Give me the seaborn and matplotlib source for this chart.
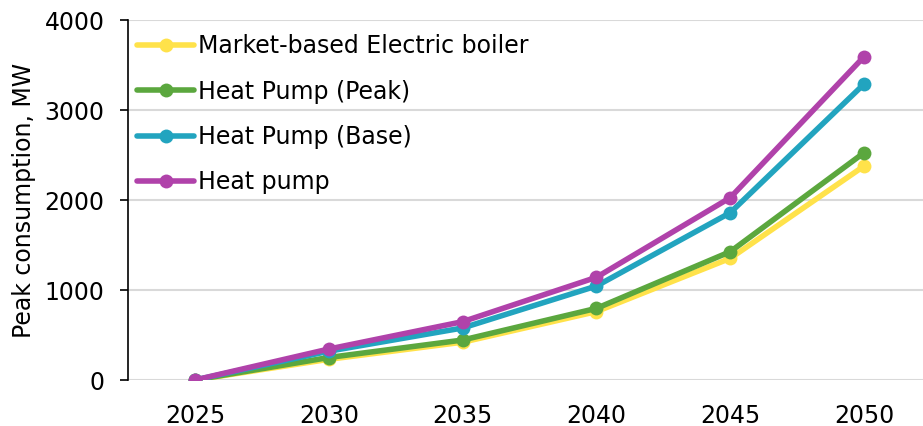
import matplotlib
matplotlib.use("Agg")
import matplotlib.pyplot as plt
import seaborn as sns
import pandas as pd

years = [2025, 2030, 2035, 2040, 2045, 2050]
electric_boiler = [0, 230, 420, 760, 1352, 2378]
hp_peak = [0, 250, 444, 796, 1426, 2526]
hp_base = [0, 320, 578, 1044, 1859, 3289]
heat_pump = [0, 344, 648, 1141, 2026, 3593]

series_names = ["Market-based Electric boiler", "Heat Pump (Peak)",
                "Heat Pump (Base)", "Heat pump"]
colors = ["#FFE24A", "#5BA73E", "#22A4BF", "#B042AA"]
y_ticks = [0, 1000, 2000, 3000, 4000]

rows = []
for name, vals in zip(series_names, [electric_boiler, hp_peak, hp_base, heat_pump]):
    for yr, v in zip(years, vals):
        rows.append({"year": yr, "value": v, "series": name})
df = pd.DataFrame(rows)

sns.set_theme(style="white", rc={"text.color": "black", "axes.labelcolor": "black",
                                 "xtick.color": "black", "ytick.color": "black"})
plt.rcParams["font.family"] = ["DejaVu Sans"]

fig = plt.figure(figsize=(9.23, 4.26), dpi=100)
ax = fig.add_axes([128 / 923, 46 / 426, 1 - 128 / 923, 360 / 426])

sns.lineplot(data=df, x="year", y="value", hue="series", hue_order=series_names,
             palette=colors, marker="o", markersize=10, markeredgewidth=0,
             linewidth=4, ax=ax, legend=True)

ax.set_xlim(2022.5, 2052.2)
ax.set_ylim(0, 4000)
ax.set_yticks(y_ticks)
ax.set_yticklabels([str(t) for t in y_ticks])
ax.set_xticks(years)
ax.set_xticklabels([str(y) for y in years])
ax.yaxis.grid(True, color="#D9D9D9", linewidth=1.5)
ax.set_axisbelow(True)
for s in ["top", "right", "bottom"]:
    ax.spines[s].set_visible(False)
ax.spines["left"].set_color("black")
ax.spines["left"].set_linewidth(1.2)
ax.tick_params(axis="y", which="both", left=True, length=5.8, width=1.2, color="black",
               labelsize=17, pad=11)
ax.tick_params(axis="x", bottom=False, labelsize=17, pad=11)
ax.set_xlabel("")
ax.set_ylabel("Peak consumption, MW", fontsize=17, labelpad=6)

leg = ax.legend(loc="upper left", frameon=False, fontsize=17, handlelength=2.4,
                labelspacing=0.9, handletextpad=0.17, borderaxespad=0.0,
                bbox_to_anchor=(0.0, 0.986))

fig.savefig("out.png", dpi=100)
